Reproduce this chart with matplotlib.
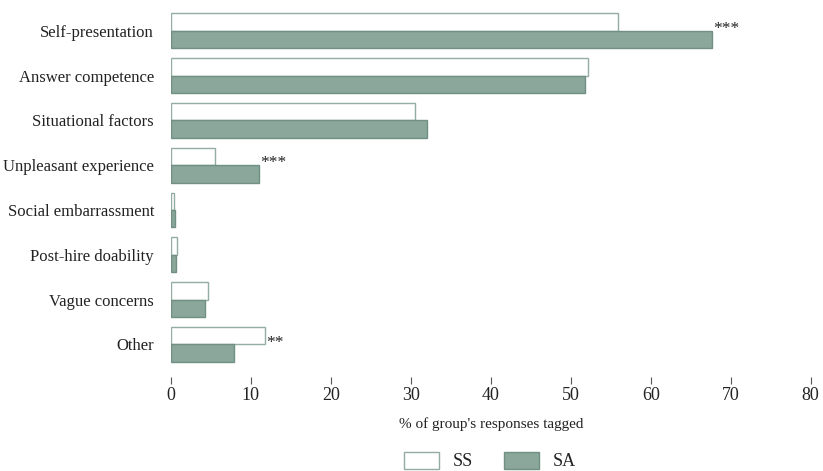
import numpy as np
import matplotlib
matplotlib.use("Agg")
from matplotlib import pyplot as plt

categories = ["Self-presentation", "Answer competence", "Situational factors",
              "Unpleasant experience", "Social embarrassment", "Post-hire doability",
              "Vague concerns", "Other"]
ss = [55.9, 52.1, 30.5, 5.5, 0.4, 0.8, 4.6, 11.75]
sa = [67.7, 51.8, 32.0, 11.0, 0.5, 0.6, 4.25, 7.9]
stars = ["***", "", "", "***", "", "", "", "**"]
xticks = [0, 10, 20, 30, 40, 50, 60, 70, 80]

plt.rcParams["font.family"] = ["Liberation Serif", "DejaVu Serif"]
txt = "#222222"
green = "#8ba69a"
edge = "#6f9083"

fig = plt.figure(figsize=(8.23, 4.71), dpi=100)
ax = fig.add_axes([170.7/823, 94/471, 640/823, 377/471])

y = np.arange(len(categories))
h = 0.39
ax.barh(y - h/2, ss, height=h, color="white", edgecolor="#93ada2", linewidth=1.0, label="SS")
ax.barh(y + h/2, sa, height=h, color=green, edgecolor=edge, linewidth=1.0, label="SA")

# significance markers sit after the longer bar of each pair
for i, s in enumerate(stars):
    if s:
        ax.text(max(ss[i], sa[i]) + 0.15, y[i] - 0.04, s, ha="left", va="center",
                fontsize=12.5, color=txt)

ax.set_xlim(0, 80)
ax.set_ylim(7.73, -0.69)
ax.set_xticks(xticks)
ax.set_yticks(y)
ax.set_yticklabels(categories)
for sp in ax.spines.values():
    sp.set_visible(False)
ax.tick_params(axis="y", length=0, pad=12, labelsize=12, labelcolor=txt)
ax.tick_params(axis="x", length=5, width=0.8, color="#555555", pad=2.5,
               labelsize=13, labelcolor=txt)
ax.set_xlabel("% of group's responses tagged", fontsize=11, color=txt, labelpad=9)

fig.legend(loc="center", bbox_to_anchor=(490/823, 1 - 461/471), ncol=2, frameon=False,
           fontsize=13, handlelength=1.95, handleheight=1.1, handletextpad=0.75,
           columnspacing=1.7, labelcolor=txt)

fig.savefig("out.png", dpi=100)
